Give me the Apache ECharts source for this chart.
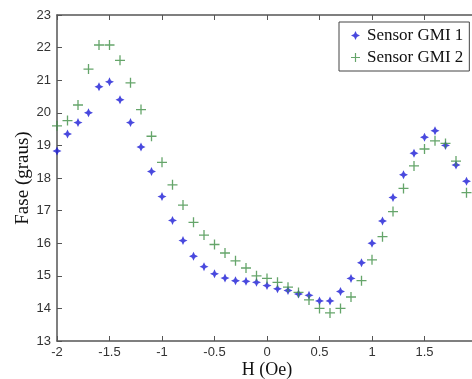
<!DOCTYPE html>
<html><head><meta charset="utf-8">
<script src="https://cdn.jsdelivr.net/npm/echarts@6/dist/echarts.min.js"></script>
<style>html,body{margin:0;padding:0;background:#fff}#c{width:472px;height:379px}</style>
</head><body><div id="c"></div>
<script>
const hValues = [-2.0,-1.9,-1.8,-1.7,-1.6,-1.5,-1.4,-1.3,-1.2,-1.1,-1.0,-0.9,-0.8,-0.7,-0.6,-0.5,-0.4,-0.3,-0.2,-0.1,0.0,0.1,0.2,0.3,0.4,0.5,0.6,0.7,0.8,0.9,1.0,1.1,1.2,1.3,1.4,1.5,1.6,1.7,1.8,1.9];
const sensor1 = [18.83,19.35,19.7,20.0,20.8,20.95,20.4,19.7,18.95,18.2,17.43,16.7,16.08,15.6,15.28,15.06,14.93,14.85,14.83,14.8,14.7,14.6,14.55,14.44,14.4,14.23,14.23,14.52,14.92,15.4,16.0,16.68,17.4,18.1,18.76,19.25,19.45,19.0,18.4,17.9];
const sensor2 = [19.6,19.76,20.24,21.34,22.08,22.08,21.61,20.92,20.1,19.28,18.48,17.79,17.17,16.64,16.25,15.96,15.7,15.46,15.24,15.0,14.92,14.8,14.65,14.49,14.26,14.0,13.86,14.0,14.35,14.85,15.49,16.2,16.97,17.68,18.37,18.89,19.14,19.06,18.52,17.55];
const seriesNames = ['Sensor GMI 1','Sensor GMI 2'];
const xTicks = [-2,-1.5,-1,-0.5,0,0.5,1,1.5,2];
const yTicks = [13,14,15,16,17,18,19,20,21,22,23];

const pairs = (xs, ys) => xs.map((x,i)=>[x, ys[i]]);
const starPath = 'path://M0,-5 L1.6,-1.6 L5,0 L1.6,1.6 L0,5 L-1.6,1.6 L-5,0 L-1.6,-1.6 Z';
const plusPath = 'path://M-0.65,-5 L0.65,-5 L0.65,-0.65 L5,-0.65 L5,0.65 L0.65,0.65 L0.65,5 L-0.65,5 L-0.65,0.65 L-5,0.65 L-5,-0.65 L-0.65,-0.65 Z';

const axisCol = '#555';
const labelStyle = {color:'#333', fontFamily:'Liberation Sans, Arial, sans-serif', fontSize:13};
const chart = echarts.init(document.getElementById('c'), null, {renderer:'canvas'});
chart.setOption({
  animation:false,
  backgroundColor:'#fff',
  grid:{left:57, top:15, width:420, height:326, containLabel:false, outerBoundsMode:'none'},
  legend:{
    data:[{name:seriesNames[0], icon:starPath},{name:seriesNames[1], icon:plusPath}],
    orient:'vertical', left:339, top:22,
    padding:[5,6,5,12], itemWidth:9, itemHeight:9, itemGap:5,
    borderColor:'#444', borderWidth:1, borderRadius:0, backgroundColor:'#fff',
    textStyle:{fontFamily:'Liberation Serif, Times New Roman, serif', fontSize:17, color:'#111', padding:[0,0,0,2]}
  },
  xAxis:[{
    type:'value', min:-2, max:2, interval:0.5,
    name:'H (Oe)', nameLocation:'middle', nameGap:20, nameMoveOverlap:false,
    nameTextStyle:{fontFamily:'Liberation Serif, Times New Roman, serif', fontSize:18, color:'#111'},
    axisLine:{show:true, onZero:false, lineStyle:{color:axisCol, width:1.5}},
    axisTick:{show:true, inside:true, length:5, lineStyle:{color:axisCol}},
    axisLabel:Object.assign({margin:5, formatter:v=>String(v)}, labelStyle),
    splitLine:{show:false}
  },{
    type:'value', position:'top', min:-2, max:2, interval:0.5,
    axisLine:{show:true, lineStyle:{color:axisCol, width:1.5}},
    axisTick:{show:true, inside:true, length:5, lineStyle:{color:axisCol}},
    axisLabel:{show:false}, splitLine:{show:false}
  }],
  yAxis:[{
    type:'value', min:13, max:23, interval:1,
    name:'Fase (graus)', nameLocation:'middle', nameGap:24, nameRotate:90, nameMoveOverlap:false,
    nameTextStyle:{fontFamily:'Liberation Serif, Times New Roman, serif', fontSize:19, color:'#111'},
    axisLine:{show:true, onZero:false, lineStyle:{color:axisCol, width:1.5}},
    axisTick:{show:true, inside:true, length:5, lineStyle:{color:axisCol}},
    axisLabel:Object.assign({margin:6}, labelStyle),
    splitLine:{show:false}
  }],
  series:[{
    name:seriesNames[0], type:'scatter', data:pairs(hValues, sensor1),
    symbol:starPath, symbolSize:9, itemStyle:{color:'#1c1cd6'}
  },{
    name:seriesNames[1], type:'scatter', data:pairs(hValues, sensor2),
    symbol:plusPath, symbolSize:10, itemStyle:{color:'#3f8f45'}
  }]
});
</script></body></html>
